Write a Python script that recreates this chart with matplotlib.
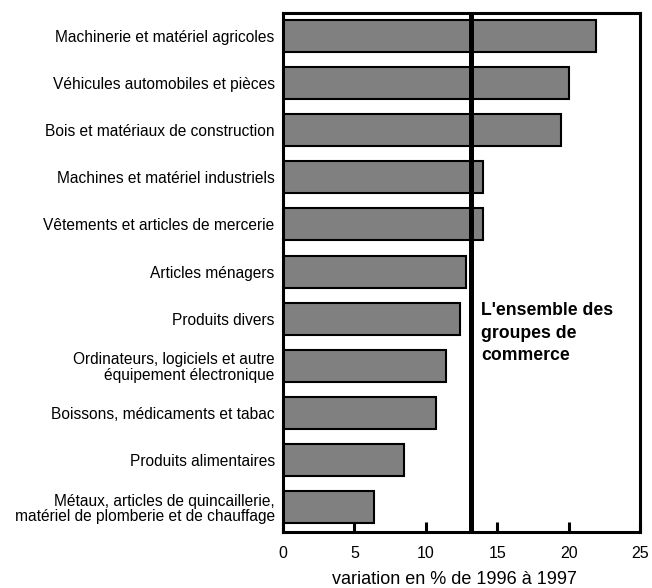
import numpy as np
import matplotlib
matplotlib.use("Agg")
import matplotlib.pyplot as plt

# === DATA
categories = [
    "Machinerie et matériel agricoles",
    "Véhicules automobiles et pièces",
    "Bois et matériaux de construction",
    "Machines et matériel industriels",
    "Vêtements et articles de mercerie",
    "Articles ménagers",
    "Produits divers",
    "Ordinateurs, logiciels et autre\néquipement électronique",
    "Boissons, médicaments et tabac",
    "Produits alimentaires",
    "Métaux, articles de quincaillerie,\nmatériel de plomberie et de chauffage",
]
variation = [21.9, 20.0, 19.5, 14.0, 14.0, 12.8, 12.4, 11.4, 10.7, 8.5, 6.4]
all_groups = 13.2
x_ticks = [0, 5, 10, 15, 20, 25]

plt.rcParams['font.family'] = ['Liberation Sans', 'DejaVu Sans']

fig = plt.figure(figsize=(6.52, 5.88), dpi=100)
ax = fig.add_axes([0.434, 0.0952, 0.5476, 0.8827])

y = np.arange(len(categories))
ax.barh(y, variation, height=0.68, color='#808080', edgecolor='black', linewidth=1.5)
ax.axvline(all_groups, color='black', linewidth=3.6)

# label for the all-groups line
ax.text(all_groups + 0.7, 5.64, "L'ensemble des\ngroupes de\ncommerce",
        fontsize=12.7, fontweight='bold', ha='left', va='top', linespacing=1.45)

ax.set_xlim(0, 25)
ax.set_ylim(10.53, -0.49)
ax.set_yticks(y)
ax.set_yticklabels(categories, fontsize=11.2, linespacing=1.05)
ax.set_xticks(x_ticks)
ax.tick_params(axis='y', length=0, pad=6)
ax.tick_params(axis='x', direction='in', length=7, width=2.2, labelsize=11.5, pad=10)
ax.set_xlabel("variation en % de 1996 à 1997", fontsize=13, labelpad=7)
ax.xaxis.label.set_x(0.48)

for s in ax.spines.values():
    s.set_linewidth(2.2)

fig.savefig("out.png", dpi=100)
